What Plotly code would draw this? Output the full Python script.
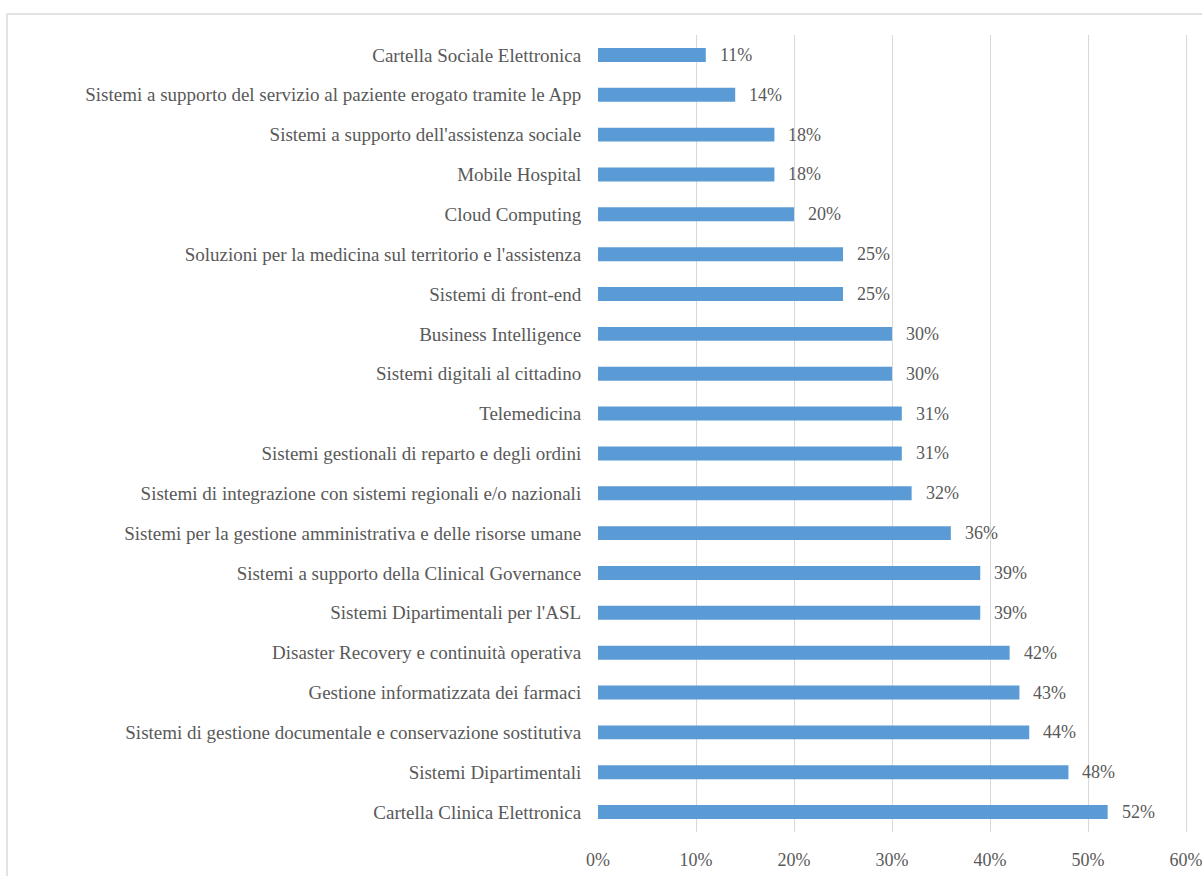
import plotly.graph_objects as go

categories = [
    "Cartella Sociale Elettronica",
    "Sistemi a supporto del servizio al paziente erogato tramite le App",
    "Sistemi a supporto dell'assistenza sociale",
    "Mobile Hospital",
    "Cloud Computing",
    "Soluzioni per la medicina sul territorio e l'assistenza",
    "Sistemi di front-end",
    "Business Intelligence",
    "Sistemi digitali al cittadino",
    "Telemedicina",
    "Sistemi gestionali di reparto e degli ordini",
    "Sistemi di integrazione con sistemi regionali e/o nazionali",
    "Sistemi per la gestione amministrativa e delle risorse umane",
    "Sistemi a supporto della Clinical Governance",
    "Sistemi Dipartimentali per l'ASL",
    "Disaster Recovery e continuità operativa",
    "Gestione informatizzata dei farmaci",
    "Sistemi di gestione documentale e conservazione sostitutiva",
    "Sistemi Dipartimentali",
    "Cartella Clinica Elettronica",
]
values = [0.11, 0.14, 0.18, 0.18, 0.20, 0.25, 0.25, 0.30, 0.30, 0.31,
          0.31, 0.32, 0.36, 0.39, 0.39, 0.42, 0.43, 0.44, 0.48, 0.52]
tick_values = [0, 0.1, 0.2, 0.3, 0.4, 0.5, 0.6]
tick_labels = ["0%", "10%", "20%", "30%", "40%", "50%", "60%"]

FONT = "Liberation Serif, Times New Roman, serif"
TEXT_COLOR = "#595959"
GRID = "#d9d9d9"

fig = go.Figure(
    go.Bar(
        x=values,
        y=categories,
        orientation="h",
        marker=dict(color="#5b9bd5", line=dict(width=0)),
        width=0.35,
        hoverinfo="x+y",
    )
)

for cat, v in zip(categories, values):
    fig.add_annotation(
        x=v, y=cat, text=f"{round(v * 100)}%", showarrow=False,
        xanchor="left", yanchor="middle", xshift=12,
        font=dict(family=FONT, size=18, color=TEXT_COLOR),
    )

# outer frame (top and left edges of the chart box)
fig.add_shape(type="line", xref="paper", yref="paper",
              x0=-1.0, x1=1.05, y0=1.0264, y1=1.0264,
              line=dict(color=GRID, width=1.5))
fig.add_shape(type="line", xref="paper", yref="paper",
              x0=-1.0, x1=-1.0, y0=-0.1, y1=1.0264,
              line=dict(color=GRID, width=1.5))

fig.update_layout(
    width=1202,
    height=876,
    margin=dict(l=598, r=13, t=35, b=44, autoexpand=False),
    paper_bgcolor="white",
    plot_bgcolor="white",
    showlegend=False,
    font=dict(family=FONT, size=18, color=TEXT_COLOR),
    xaxis=dict(
        range=[0, 0.603],
        tickvals=tick_values,
        ticktext=tick_labels,
        showgrid=True,
        gridcolor=GRID,
        gridwidth=1,
        zeroline=False,
        showline=False,
        ticks="outside",
        ticklen=11,
        tickcolor="rgba(0,0,0,0)",
        automargin=False,
        ticklabeloverflow="allow",
        tickfont=dict(family=FONT, size=18, color=TEXT_COLOR),
    ),
    yaxis=dict(
        categoryorder="array",
        categoryarray=categories[::-1],
        autorange=False,
        range=[-0.5, len(categories) - 0.5],
        showgrid=False,
        zeroline=False,
        showline=False,
        ticks="outside",
        ticklen=12,
        tickcolor="rgba(0,0,0,0)",
        automargin=False,
        tickfont=dict(family=FONT, size=19, color=TEXT_COLOR),
    ),
)

fig.write_html("out.html")
